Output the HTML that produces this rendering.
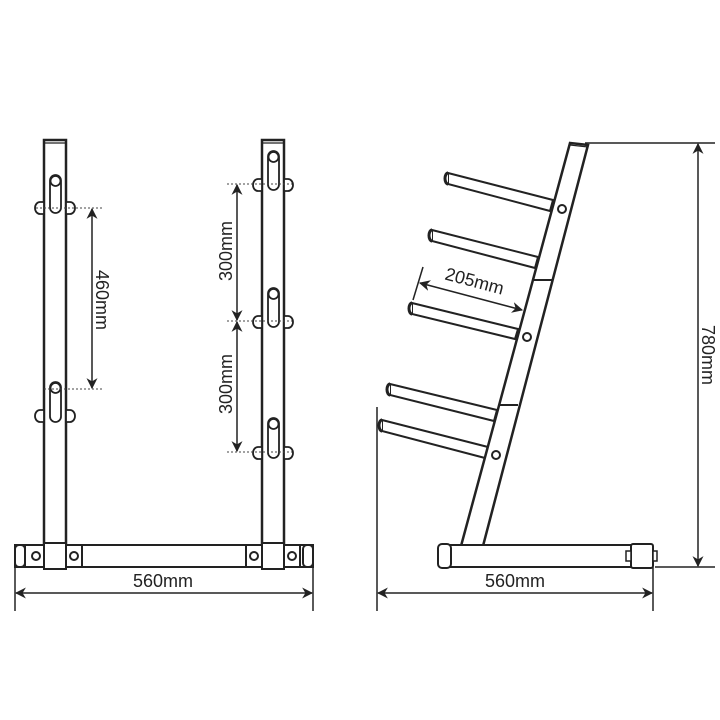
<!DOCTYPE html>
<html><head><meta charset="utf-8"><style>
html,body{margin:0;padding:0;background:#fff}
svg{display:block}
text{font-family:"Liberation Sans",sans-serif;font-size:18px;fill:#222}
</style></head><body>
<svg width="720" height="720" viewBox="0 0 720 720" xmlns="http://www.w3.org/2000/svg">
<defs>
<marker id="ah" viewBox="0 0 10 10" refX="9" refY="5" markerWidth="11" markerHeight="11" orient="auto-start-reverse" markerUnits="userSpaceOnUse"><path d="M0,0 L10,5 L0,10 L3,5 Z" fill="#222"/></marker>
</defs>
<g stroke="#222" fill="#fff" stroke-width="2">
<rect x="44" y="140" width="22" height="405" stroke-width="2.5"/>
<line x1="44" y1="143" x2="66" y2="143" stroke-width="1.2"/>
<rect x="262" y="140" width="22" height="405" stroke-width="2.5"/>
<line x1="262" y1="143" x2="284" y2="143" stroke-width="1.2"/>
<rect x="15" y="545" width="298" height="22" stroke-width="2"/>
<rect x="15" y="545" width="10" height="22" rx="4"/>
<rect x="303" y="545" width="10" height="22" rx="4"/>
<rect x="25" y="545" width="19" height="22"/>
<rect x="44" y="543" width="22" height="26"/>
<rect x="66" y="545" width="16" height="22"/>
<rect x="246" y="545" width="16" height="22"/>
<rect x="262" y="543" width="22" height="26"/>
<rect x="284" y="545" width="16" height="22"/>
<circle cx="36" cy="556" r="4"/><circle cx="74" cy="556" r="4"/>
<circle cx="254" cy="556" r="4"/><circle cx="292" cy="556" r="4"/>
</g>
<g stroke="#222" fill="#fff" stroke-width="1.8">
<path d="M44,202 h-4 a5,6 0 0 0 0,12 h4 Z"/><path d="M66,202 h4 a5,6 0 0 1 0,12 h-4 Z"/>
<rect x="50" y="175" width="11" height="38" rx="5.5"/><circle cx="55.5" cy="181" r="5"/>
<path d="M44,410 h-4 a5,6 0 0 0 0,12 h4 Z"/><path d="M66,410 h4 a5,6 0 0 1 0,12 h-4 Z"/>
<rect x="50" y="382" width="11" height="40" rx="5.5"/><circle cx="55.5" cy="388" r="5"/>
<path d="M262,179 h-4 a5,6 0 0 0 0,12 h4 Z"/><path d="M284,179 h4 a5,6 0 0 1 0,12 h-4 Z"/>
<rect x="268" y="151" width="11" height="39" rx="5.5"/><circle cx="273.5" cy="157" r="5"/>
<path d="M262,316 h-4 a5,6 0 0 0 0,12 h4 Z"/><path d="M284,316 h4 a5,6 0 0 1 0,12 h-4 Z"/>
<rect x="268" y="288" width="11" height="39" rx="5.5"/><circle cx="273.5" cy="294" r="5"/>
<path d="M262,447 h-4 a5,6 0 0 0 0,12 h4 Z"/><path d="M284,447 h4 a5,6 0 0 1 0,12 h-4 Z"/>
<rect x="268" y="418" width="11" height="40" rx="5.5"/><circle cx="273.5" cy="424" r="5"/>
</g>
<g stroke="#444" stroke-width="1" stroke-dasharray="2,2">
<line x1="36" y1="208" x2="102" y2="208"/>
<line x1="44" y1="389" x2="102" y2="389"/>
<line x1="227" y1="184" x2="292" y2="184"/>
<line x1="227" y1="321" x2="292" y2="321"/>
<line x1="227" y1="452" x2="292" y2="452"/>
</g>
<g stroke="#222" stroke-width="1.5" fill="none">
<line x1="92" y1="209" x2="92" y2="388" marker-start="url(#ah)" marker-end="url(#ah)"/>
<line x1="237" y1="185" x2="237" y2="320" marker-start="url(#ah)" marker-end="url(#ah)"/>
<line x1="237" y1="322" x2="237" y2="451" marker-start="url(#ah)" marker-end="url(#ah)"/>
<line x1="15" y1="567" x2="15" y2="611"/>
<line x1="313" y1="567" x2="313" y2="611"/>
<line x1="16" y1="593" x2="312" y2="593" marker-start="url(#ah)" marker-end="url(#ah)"/>
</g>
<text x="102" y="300" text-anchor="middle" dominant-baseline="central" transform="rotate(90 102 300)">460mm</text>
<text x="226" y="251" text-anchor="middle" dominant-baseline="central" transform="rotate(-90 226 251)">300mm</text>
<text x="226" y="384" text-anchor="middle" dominant-baseline="central" transform="rotate(-90 226 384)">300mm</text>
<text x="163" y="587" text-anchor="middle">560mm</text>

<g stroke="#222" fill="#fff" stroke-width="2">
<path d="M448,173 L553,200 L550,211 L448,184 Z"/><path d="M448,173 a3,5.5 0 0 0 0,11" stroke-width="3"/>
<path d="M432,230 L538,257 L535,268 L432,241 Z"/><path d="M432,230 a3,5.5 0 0 0 0,11" stroke-width="3"/>
<path d="M412,303 L518,329 L515,339 L412,314 Z"/><path d="M412,303 a3,5.5 0 0 0 0,11" stroke-width="3"/>
<path d="M390,384 L497,410 L494,421 L390,395 Z"/><path d="M390,384 a3,5.5 0 0 0 0,11" stroke-width="3"/>
<path d="M382,420 L488,447 L485,458 L382,431 Z"/><path d="M382,420 a3,5.5 0 0 0 0,11" stroke-width="3"/>
<path d="M570,143 L588,145 L483,546 L461,546 Z" stroke-width="2.5"/>
<line x1="570" y1="145" x2="588" y2="147" stroke-width="1.2"/>
<line x1="533" y1="280" x2="552" y2="280"/>
<line x1="500" y1="405" x2="518" y2="405"/>
<circle cx="562" cy="209" r="4"/><circle cx="527" cy="337" r="4"/><circle cx="496" cy="455" r="4"/>
<rect x="440" y="545" width="191" height="22"/>
<rect x="438" y="544" width="13" height="24" rx="4"/>
<rect x="631" y="544" width="22" height="24" rx="2"/>
<rect x="626" y="551" width="5" height="10" stroke-width="1.5"/>
<rect x="653" y="551" width="4" height="10" stroke-width="1.5"/>
</g>
<g stroke="#222" stroke-width="1.5" fill="none">
<line x1="423" y1="267" x2="413" y2="300"/>
<line x1="420" y1="283" x2="522" y2="310" marker-start="url(#ah)" marker-end="url(#ah)"/>
<line x1="585" y1="143" x2="715" y2="143"/>
<line x1="655" y1="567" x2="715" y2="567"/>
<line x1="698" y1="144" x2="698" y2="566" marker-start="url(#ah)" marker-end="url(#ah)"/>
<line x1="377" y1="407" x2="377" y2="611"/>
<line x1="653" y1="567" x2="653" y2="611"/>
<line x1="378" y1="593" x2="652" y2="593" marker-start="url(#ah)" marker-end="url(#ah)"/>
</g>
<text x="473" y="287" text-anchor="middle" transform="rotate(15 473 287)">205mm</text>
<text x="708" y="355" text-anchor="middle" dominant-baseline="central" transform="rotate(90 708 355)">780mm</text>
<text x="515" y="587" text-anchor="middle">560mm</text>
</svg>
</body></html>
